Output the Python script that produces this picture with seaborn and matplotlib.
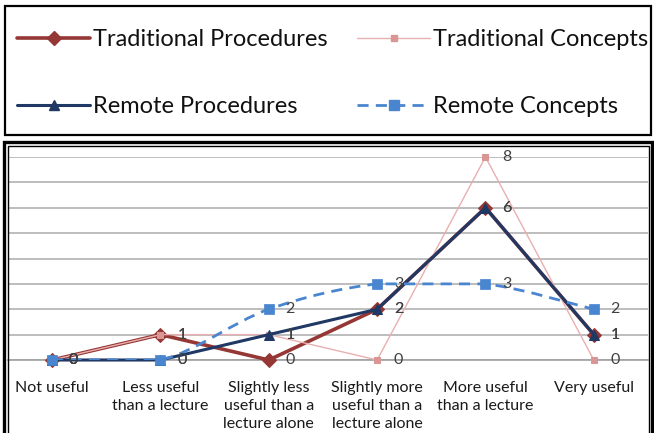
import numpy as np
import pandas as pd
import matplotlib
matplotlib.use("Agg")
import matplotlib.pyplot as plt
import seaborn as sns
from matplotlib.lines import Line2D
from matplotlib.patches import Rectangle, PathPatch
from matplotlib.path import Path

# data
categories = ["Not useful", "Less useful\nthan a lecture", "Slightly less\nuseful than a\nlecture alone",
              "Slightly more\nuseful than a\nlecture alone", "More useful\nthan a lecture", "Very useful"]
trad_procedures = [0, 1, 0, 2, 6, 1]
trad_concepts = [0, 1, 1, 0, 8, 0]
remote_procedures = [0, 0, 1, 2, 6, 1]
remote_concepts = [0, 0, 2, 3, 3, 2]

sns.set_style("white")
plt.rcParams['font.family'] = ['Lato', 'DejaVu Sans']

W, H = 654, 433
fig = plt.figure(figsize=(W / 100, H / 100), dpi=100)

# axes placed in pixel terms
ax_l, ax_r, ax_b, ax_t = 8, 648, 360, 157
ax = fig.add_axes([ax_l / W, 1 - ax_b / H, (ax_r - ax_l) / W, (ax_b - ax_t) / H])

x = np.arange(len(categories))
df = pd.DataFrame({"x": x, "tp": trad_procedures, "tc": trad_concepts,
                   "rp": remote_procedures, "rc": remote_concepts})

c_tp, c_tc_line, c_tc_mk, c_rp, c_rc = "#953735", "#E8B0AF", "#D99694", "#1F3864", "#4A86D0"

sns.lineplot(data=df, x="x", y="tp", ax=ax, color=c_tp, lw=2.6, marker="D", markersize=7,
             markeredgecolor=c_tp, zorder=3, clip_on=False)
sns.lineplot(data=df, x="x", y="tc", ax=ax, color=c_tc_line, lw=1.0, marker="s", markersize=4.5,
             markerfacecolor=c_tc_mk, markeredgecolor=c_tc_mk, zorder=4, clip_on=False)
sns.lineplot(data=df, x="x", y="rp", ax=ax, color=c_rp, lw=2.2, marker="^", markersize=7,
             markeredgecolor=c_rp, zorder=5, clip_on=False)

# smoothed dashed line (bezier through the points, control points kept within each segment's range)
pts = np.column_stack([x, remote_concepts]).astype(float)
verts = [pts[0]]
codes = [Path.MOVETO]
for i in range(len(pts) - 1):
    p0 = pts[max(i - 1, 0)]
    p1, p2 = pts[i], pts[i + 1]
    p3 = pts[min(i + 2, len(pts) - 1)]
    c1 = p1 + (p2 - p0) / 6
    c2 = p2 - (p3 - p1) / 6
    lo, hi = min(p1[1], p2[1]), max(p1[1], p2[1])
    c1[1] = np.clip(c1[1], lo, hi)
    c2[1] = np.clip(c2[1], lo, hi)
    verts += [c1, c2, p2]
    codes += [Path.CURVE4] * 3
ax.add_patch(PathPatch(Path(verts, codes), fill=False, edgecolor=c_rc, lw=2.0,
                       linestyle=(0, (4, 2.6)), zorder=6))
sns.scatterplot(data=df, x="x", y="rc", ax=ax, color=c_rc, marker="s", s=42,
                edgecolor=c_rc, zorder=7, clip_on=False)

# data labels to the right of each point
for col in ["tp", "tc", "rp", "rc"]:
    for xi, yi in zip(df["x"], df[col]):
        ax.annotate(str(yi), (xi, yi), xytext=(15.5, 0), textcoords="offset points",
                    ha="center", va="center", fontsize=11.5, color="#404040", zorder=8)

ax.set_xlim(-0.407, 5.5)
ax.set_ylim(0, 8)
ax.set_yticks(range(0, 9))
ax.set_yticklabels([])
ax.tick_params(axis="y", length=0)
ax.grid(axis="y", color="#BDBDBD", lw=1.4)
ax.set_axisbelow(True)
ax.set_xticks(x)
ax.set_xticklabels(categories, fontsize=11.5, color="#1a1a1a", linespacing=1.36)
ax.set_xticks(np.arange(0.5, 5.6, 1.0), minor=True)
ax.tick_params(axis="x", which="major", length=0, pad=15)
ax.tick_params(axis="x", which="minor", length=5, color="#A0A0A0", width=1)
ax.set_xlabel("")
ax.set_ylabel("")
for s in ["top", "left", "right"]:
    ax.spines[s].set_visible(False)
ax.spines["bottom"].set_color("#A0A0A0")
ax.spines["bottom"].set_linewidth(1.2)

# legend in its own box above the chart
handles = [
    Line2D([], [], color=c_tp, lw=2.6, marker="D", markersize=7),
    Line2D([], [], color=c_rp, lw=2.2, marker="^", markersize=7),
    Line2D([], [], color=c_tc_line, lw=1.0, marker="s", markersize=4.5,
           markerfacecolor=c_tc_mk, markeredgecolor=c_tc_mk),
    Line2D([], [], color=c_rc, lw=2.0, ls=(0, (4, 2.6)), marker="s", markersize=7),
]
labels = ["Traditional Procedures", "Remote Procedures", "Traditional Concepts", "Remote Concepts"]
fig.legend(handles, labels, ncol=2, loc="upper left", bbox_to_anchor=(17 / W, 1 - 29 / H),
           frameon=False, fontsize=17, handlelength=3.1, handletextpad=0.12,
           columnspacing=1.25, labelspacing=1.95, borderpad=0, borderaxespad=0,
           labelcolor="#111111")

# boxes around legend and chart
def px_rect(x0, y0, x1, y1, lw):
    fig.add_artist(Rectangle((x0 / W, 1 - y1 / H), (x1 - x0) / W, (y1 - y0) / H,
                             transform=fig.transFigure, fill=False, edgecolor="black",
                             lw=lw, zorder=20))

px_rect(4.5, 6.5, 651, 135, 1.6)
px_rect(4, 142, 652, 440, 2.4)
px_rect(7.5, 146, 648.5, 440, 1.0)

fig.savefig("out.png", dpi=100)
